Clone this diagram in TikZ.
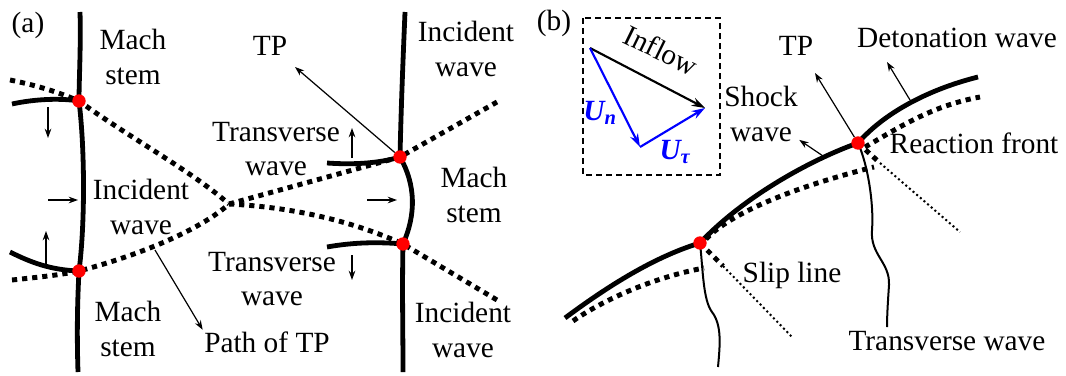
\documentclass[tikz,border=0pt]{standalone}
\usepackage{fontspec}
\setmainfont{Liberation Serif}
\usepackage{tikz}
\usetikzlibrary{positioning, arrows.meta, calc}
\definecolor{TPRed}{RGB}{255,0,0}
\definecolor{VecBlue}{RGB}{0,0,255}

\begin{document}
\begin{tikzpicture}[x=0.75pt, y=-0.75pt,
  wave/.style={line width=3.6pt},
  front/.style={line width=3.7pt, dash pattern=on 3.9pt off 3.7pt},
  slip/.style={line width=1.5pt, dash pattern=on 1.5pt off 2.1pt},
  trans/.style={line width=1.5pt},
  tp/.style={circle, fill=TPRed, inner sep=0pt, minimum size=10pt},
  lbl/.style={font=\fontsize{22}{26}\selectfont, align=center, inner sep=1pt},
  arrow/.style={-{Stealth[length=7pt, width=5pt]}, line width=0.9pt},
  vec/.style={-{Stealth[length=10pt, width=6.5pt]}, line width=1.6pt}
]
\useasboundingbox (0,0) rectangle (1066,375);

% (a) triple points and paths
\coordinate (ta1) at (79,101);
\coordinate (ta2) at (79,271);
\coordinate (tb1) at (400,157);
\coordinate (tb2) at (403,244);
\coordinate (cross) at (229,204);

\draw[front] (10,80) .. controls (40,86) and (60,93) .. (ta1) .. controls (130,138) and (190,170) .. (cross);
\draw[front] (12,280) .. controls (40,277) and (60,275) .. (ta2) .. controls (140,255) and (200,230) .. (cross);
\draw[front] (cross) -- (tb1) -- (497,102);
\draw[front] (cross) .. controls (290,207) and (350,220) .. (tb2) -- (497,300);

\draw[wave] (80,12) .. controls (81,45) and (79,80) .. (ta1) .. controls (85,150) and (85,225) .. (ta2) .. controls (77,310) and (77,340) .. (78,372);
\draw[wave] (12,104) .. controls (35,99) and (60,98) .. (ta1);
\draw[wave] (10,252) .. controls (30,262) and (50,270) .. (ta2);
\draw[wave] (405,12) .. controls (403,60) and (401,110) .. (tb1) .. controls (416,185) and (416,215) .. (tb2) .. controls (402,290) and (403,330) .. (403,372);
\draw[wave] (327,163) .. controls (355,165) and (380,163) .. (tb1);
\draw[wave] (327,247) .. controls (355,242) and (380,242) .. (tb2);

\node[tp] (ta1dot) at (ta1) {};
\node[tp] (ta2dot) at (ta2) {};
\node[tp] (tb1dot) at (tb1) {};
\node[tp] (tb2dot) at (tb2) {};

% wave motion
\draw[arrow] (48,107) -- (48,138);
\draw[arrow] (48,200) -- (78,200);
\draw[arrow] (46,267) -- (46,231);
\draw[arrow] (352,158) -- (352,128);
\draw[arrow] (352,255) -- (352,280);
\draw[arrow] (367,200) -- (397,200);

\node[lbl, anchor=base] (panelA) at (28,32) {(a)};
\node[lbl] (machTL) at (133,57) {Mach\\stem};
\node[lbl] (incL) at (141,207) {Incident\\wave};
\node[lbl] (machBL) at (128,329) {Mach\\stem};
\node[lbl] (transU) at (276,149) {Transverse\\wave};
\node[lbl] (transD) at (272,279) {Transverse\\wave};
\node[lbl] (incTR) at (466,49) {Incident\\wave};
\node[lbl] (machR) at (474,195) {Mach\\stem};
\node[lbl] (incBR) at (463,330) {Incident\\wave};
\node[lbl, anchor=base] (tpA) at (270,55) {TP};
\node[lbl, anchor=base] (pathlbl) at (267,352) {Path of TP};

\coordinate (pathpt) at (155,250);
\coordinate (tpAtip) at (295,67);
\draw[arrow] (pathpt) -- (pathlbl.north west);
\draw[arrow] (tb1dot) -- (tpAtip);

% (b) inflow decomposition
\node[lbl, anchor=base] (panelB) at (554,30) {(b)};
\draw[line width=1.1pt, dash pattern=on 4.5pt off 3pt] (583,18) rectangle (720,175);
\coordinate (vo) at (590,48);
\coordinate (vn) at (640,147);
\coordinate (vt) at (705,108);
\draw[vec] (vo) -- (vt);
\draw[vec, VecBlue] (vo) -- (vn);
\draw[vec, VecBlue] (vn) -- (vt);
\node[lbl, rotate=-26] (inflow) at (661,50) {Inflow};
\node[lbl, text=VecBlue] (un) at (600,113) {\bfseries\itshape U\textsubscript{n}};
\node[lbl, text=VecBlue] (utau) at (675,152) {\bfseries\itshape U\textsubscript{τ}};

% (b) cellular front
\coordinate (tc1) at (858,143);
\coordinate (tc2) at (700,243);
\coordinate (slip1a) at (880,163);
\coordinate (slip1b) at (960,232);
\coordinate (slip2a) at (723,266);
\coordinate (slip2b) at (793,338);

\draw[front] (573,321) .. controls (600,302) and (650,278) .. (704,268);
\draw[front] (706,239) .. controls (730,214) and (790,188) .. (874,167);
\draw[front] (865,147) .. controls (895,130) and (930,106) .. (980,97);
\draw[front] (tc2) -- (slip2a);
\draw[front] (tc1) -- (slip1a);
\draw[slip] (slip2a) -- (slip2b);
\draw[slip] (slip1a) -- (slip1b);

\draw[wave] (565,318) .. controls (600,292) and (650,258) .. (tc2) .. controls (745,195) and (815,158) .. (tc1) .. controls (885,112) and (930,89) .. (978,77);

\draw[trans] (tc1) .. controls (868,165) and (874,205) .. (872,230) .. controls (870,255) and (890,262) .. (889,285) .. controls (888,300) and (887,315) .. (887,327);
\draw[trans] (tc2) .. controls (703,270) and (703,300) .. (712,312) .. controls (722,325) and (720,345) .. (718,367);

\node[tp] (tc1dot) at (tc1) {};
\node[tp] (tc2dot) at (tc2) {};

\node[lbl] (shock) at (761,114) {Shock\\wave};
\node[lbl, anchor=base] (tpB) at (796,55) {TP};
\node[lbl, anchor=base] (det) at (957,47) {Detonation wave};
\node[lbl, anchor=base] (react) at (974,153) {Reaction front};
\node[lbl, anchor=base] (slip) at (792,282) {Slip line};
\node[lbl, anchor=base] (transB) at (947,350) {Transverse wave};

\coordinate (shkpt) at (823,156);
\coordinate (tpBtip) at (815,73);
\coordinate (detpt) at (910,100);
\coordinate (dettip) at (887,62);
\draw[arrow] (shkpt) -- (shock);
\draw[arrow] (tc1dot) -- (tpBtip);
\draw[arrow] (detpt) -- (dettip);

\end{tikzpicture}
\end{document}
